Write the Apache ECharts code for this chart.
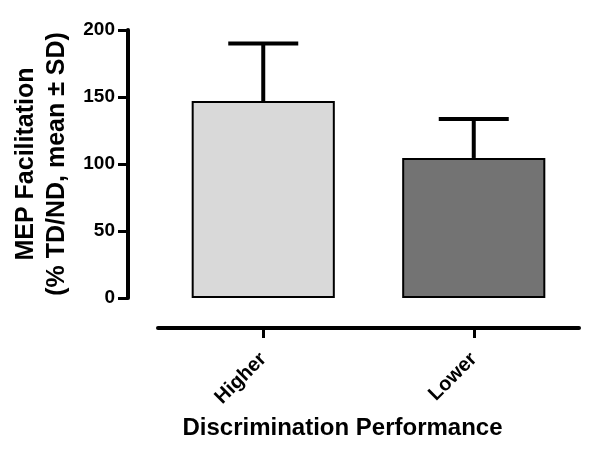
<!DOCTYPE html>
<html>
<head>
<meta charset="utf-8">
<script src="https://cdn.jsdelivr.net/npm/echarts@6/dist/echarts.min.js"></script>
<style>
  html, body { margin: 0; padding: 0; background: #fff; }
  #chart { width: 600px; height: 461px; }
</style>
</head>
<body>
<div id="chart"></div>
<script>
// data
var categories = ["Higher", "Lower"];
var means = [147, 104.5];
var sds = [43, 29];
var barColors = ["#d9d9d9", "#737373"];
var yTicks = [0, 50, 100, 150, 200];

var font = "'Liberation Sans', Arial, sans-serif";

// error bar rows: [index, mean, sd]
var errData = [];
for (var i = 0; i < categories.length; i++) {
  errData.push([i, means[i], sds[i]]);
}

var chart = echarts.init(document.getElementById("chart"));

var option = {
  animation: false,
  backgroundColor: "#fff",
  grid: { left: 158, right: 21, top: 30, bottom: 163 },
  xAxis: {
    type: "category",
    data: categories,
    offset: 30,
    name: "Discrimination Performance",
    nameLocation: "middle",
    nameGap: 88,
    nameTextStyle: { fontFamily: font, fontWeight: "bold", fontSize: 24, color: "#000", padding: [0, 52, 0, 0] },
    axisLine: { onZero: false, lineStyle: { color: "#000", width: 4, cap: "round" } },
    axisTick: { show: true, alignWithLabel: true, length: 10, lineStyle: { color: "#000", width: 3 } },
    axisLabel: {
      rotate: 45,
      margin: 28,
      fontFamily: font,
      fontWeight: "bold",
      fontSize: 20,
      color: "#000"
    }
  },
  yAxis: {
    type: "value",
    min: yTicks[0],
    max: yTicks[yTicks.length - 1],
    interval: 50,
    offset: 30,
    name: "MEP Facilitation\n(% TD/ND, mean \u00b1 SD)",
    nameLocation: "middle",
    nameGap: 54,
    nameTextStyle: { fontFamily: font, fontWeight: "bold", fontSize: 25, lineHeight: 31, color: "#000" },
    splitLine: { show: false },
    axisLine: { show: true, onZero: false, lineStyle: { color: "#000", width: 4 } },
    axisTick: { show: true, length: 10, lineStyle: { color: "#000", width: 3 } },
    axisLabel: { margin: 13, fontFamily: font, fontWeight: "bold", fontSize: 19, color: "#000" }
  },
  series: [
    {
      type: "bar",
      barWidth: "68%",
      data: means.map(function (v, i) {
        return { value: v, itemStyle: { color: barColors[i] } };
      }),
      itemStyle: { borderColor: "#000", borderWidth: 2 },
      z: 2
    },
    {
      // upper SD whiskers
      type: "custom",
      data: errData,
      z: 3,
      renderItem: function (params, api) {
        var idx = api.value(0);
        var base = api.coord([idx, api.value(1)]);
        var top = api.coord([idx, api.value(1) + api.value(2)]);
        var half = 35;
        var style = { stroke: "#000", lineWidth: 4 };
        return {
          type: "group",
          children: [
            { type: "line", shape: { x1: base[0], y1: base[1], x2: top[0], y2: top[1] }, style: style },
            { type: "line", shape: { x1: top[0] - half, y1: top[1], x2: top[0] + half, y2: top[1] }, style: style }
          ]
        };
      }
    }
  ]
};

chart.setOption(option);
</script>
</body>
</html>
